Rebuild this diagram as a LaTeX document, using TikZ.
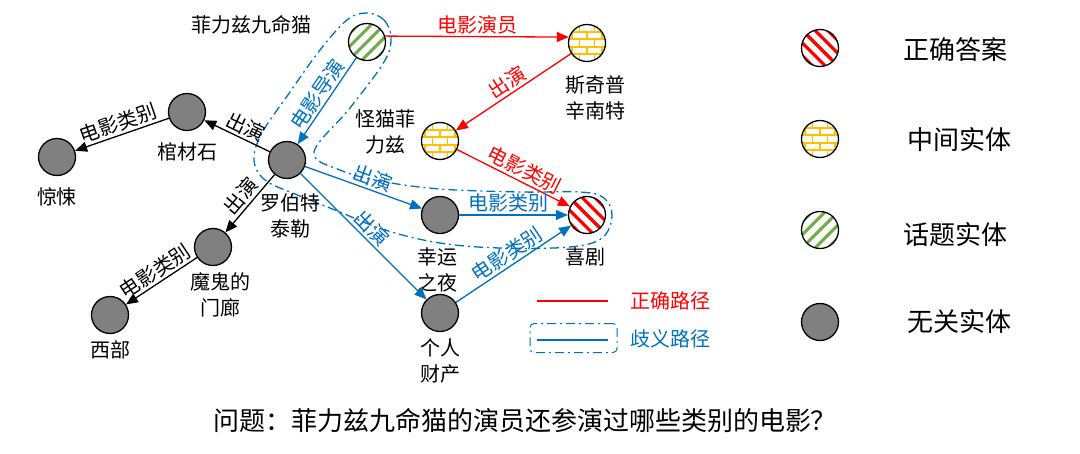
\documentclass[tikz,border=0pt]{standalone}
\usepackage{fontspec}
\setmainfont{Noto Sans CJK SC}
\usetikzlibrary{arrows.meta}
\definecolor{cred}{HTML}{FF0000}
\definecolor{cblue}{HTML}{0070C0}
\definecolor{cgreen}{HTML}{70AD47}
\definecolor{cyel}{HTML}{FFC000}
\definecolor{cgrey}{HTML}{808080}
\tikzset{
  ent/.style={circle, draw=black, line width=1.3pt, minimum size=37pt, inner sep=0pt},
  irr/.style={ent, fill=cgrey},
  ansent/.style={ent, fill=white, path picture={
    \foreach \kk in {-3,...,3}
      \draw[cred, line width=3.2pt] ([shift={(\kk*12.7pt-25pt,25pt)}]path picture bounding box.center) -- ++(50pt,-50pt);}},
  topicent/.style={ent, fill=white, path picture={
    \foreach \kk in {-3,...,3}
      \draw[cgreen, line width=3pt] ([shift={(\kk*13pt-25pt,-25pt)}]path picture bounding box.center) -- ++(50pt,50pt);}},
  mident/.style={ent, fill=white, path picture={
    \foreach \rr in {-3,...,3}
      \draw[cyel, line width=1.8pt] ([shift={(-25pt,\rr*7.5pt+3.75pt)}]path picture bounding box.center) -- ++(50pt,0pt);
    \foreach \rr in {-3,...,2}{\foreach \cc in {-2,...,2}{
      \draw[cyel, line width=1.8pt] ([shift={({\cc*15pt+7.5pt*Mod(\rr,2)},\rr*7.5pt+3.75pt)}]path picture bounding box.center) -- ++(0pt,7.5pt);}}}},
  lbl/.style={font=\fontsize{20}{26}\selectfont, align=center, inner sep=0pt},
  elbl/.style={font=\fontsize{20}{24}\selectfont, sloped, above, inner sep=2pt},
  redge/.style={draw=cred, line width=1.3pt, -{Triangle[length=12pt,width=10pt]}},
  bedge/.style={draw=cblue, line width=1.3pt, -{Triangle[length=12pt,width=10pt]}},
  kedge/.style={draw=black, line width=1.3pt, -{Triangle[length=12pt,width=10pt]}},
  amb/.style={draw=cblue, line width=1.3pt, dash pattern=on 9pt off 4pt on 2pt off 4pt},
  legtxt/.style={font=\fontsize{26}{30}\selectfont, inner sep=0pt},
}
\begin{document}
\begin{tikzpicture}[x=1pt, y=-1pt]
\useasboundingbox (0,0) rectangle (1080,453);
% ambiguous-path contour
\draw[amb] plot[smooth cycle, tension=0.6] coordinates {
 (367,13) (384,20) (391,38) (384,62) (350,108) (314,152) (340,170) (380,181)
 (440,189) (520,192) (580,192) (604,198) (612,216) (602,238) (570,247) (500,248)
 (440,243) (385,230) (335,210) (295,194) (265,180) (254,160) (262,133) (290,92)
 (320,50) (347,20)};
% nodes
\node[topicent] (topic) at (367,42) {};
\node[mident] (spk) at (587,43) {};
\node[mident] (gm) at (440,141) {};
\node[irr] (rb) at (287,160) {};
\node[irr] (gcs) at (187,112) {};
\node[irr] (jq) at (57,157) {};
\node[irr] (mg) at (213,247) {};
\node[irr] (xb) at (110,315) {};
\node[irr] (xy) at (440,215) {};
\node[irr] (gr) at (440,313) {};
\node[ansent] (xj) at (587,215) {};
% node labels
\node[lbl] (ltopic) at (251,25) {菲力兹九命猫};
\node[lbl] (lspk) at (595,98) {斯奇普\\辛南特};
\node[lbl] (lgm) at (385,132) {怪猫菲\\力兹};
\node[lbl] (lrb) at (290,216) {罗伯特\\泰勒};
\node[lbl] (lgcs) at (187,152) {棺材石};
\node[lbl] (ljq) at (57,197) {惊悚};
\node[lbl] (lmg) at (220,295) {魔鬼的\\门廊};
\node[lbl] (lxb) at (110,350) {西部};
\node[lbl] (lxy) at (437,270) {幸运\\之夜};
\node[lbl] (lgr) at (440,361) {个人\\财产};
\node[lbl] (lxj) at (585,257) {喜剧};
% edges
\draw[redge] (topic.18) -- node[elbl, text=cred] {电影演员} (spk.162);
\draw[redge] (spk) -- node[elbl, text=cred] {出演} (gm);
\draw[redge] (gm) -- node[elbl, text=cred, pos=0.55] {电影类别} (xj);
\draw[bedge] (topic) -- node[elbl, text=cblue] {电影导演} (rb);
\draw[kedge] (rb) -- node[elbl, pos=0.45] {出演} (gcs);
\draw[kedge] (gcs) -- node[elbl] {电影类别} (jq);
\draw[kedge] (rb) -- node[elbl] {出演} (mg);
\draw[kedge] (mg) -- node[elbl] {电影类别} (xb);
\draw[bedge] (rb) -- node[elbl, text=cblue, pos=0.55] {出演} (xy);
\draw[bedge] (rb) -- node[elbl, text=cblue] {出演} (gr);
\draw[bedge] (xy) -- node[elbl, text=cblue, pos=0.45] {电影类别} (xj);
\draw[bedge] (gr) -- node[elbl, text=cblue] {电影类别} (xj);
% path legend
\coordinate (lr1) at (537,301);
\coordinate (lr2) at (608,301);
\draw[cred, line width=1.3pt] (lr1) -- (lr2);
\node[font=\fontsize{20}{24}\selectfont, text=cred, inner sep=0pt] (lrt) at (670,301) {正确路径};
\node[amb, line width=1pt, rounded corners=4pt, minimum width=87pt, minimum height=29pt, inner sep=0pt] (lbox) at (573.5,338) {};
\coordinate (lb1) at (537,340);
\coordinate (lb2) at (608,340);
\draw[cblue, line width=1.3pt] (lb1) -- (lb2);
\node[font=\fontsize{20}{24}\selectfont, text=cblue, inner sep=0pt] (lbt) at (670,339) {歧义路径};
% entity legend
\node[ansent] (lg1) at (820,48) {};
\node[legtxt] (lt1) at (955,50) {正确答案};
\node[mident] (lg2) at (820,139) {};
\node[legtxt] (lt2) at (959,140) {中间实体};
\node[topicent] (lg3) at (820,230) {};
\node[legtxt] (lt3) at (955,235) {话题实体};
\node[irr] (lg4) at (820,322) {};
\node[legtxt] (lt4) at (959,322) {无关实体};
% question
\node[legtxt] (q) at (525,421) {问题：菲力兹九命猫的演员还参演过哪些类别的电影？};
\end{tikzpicture}
\end{document}
